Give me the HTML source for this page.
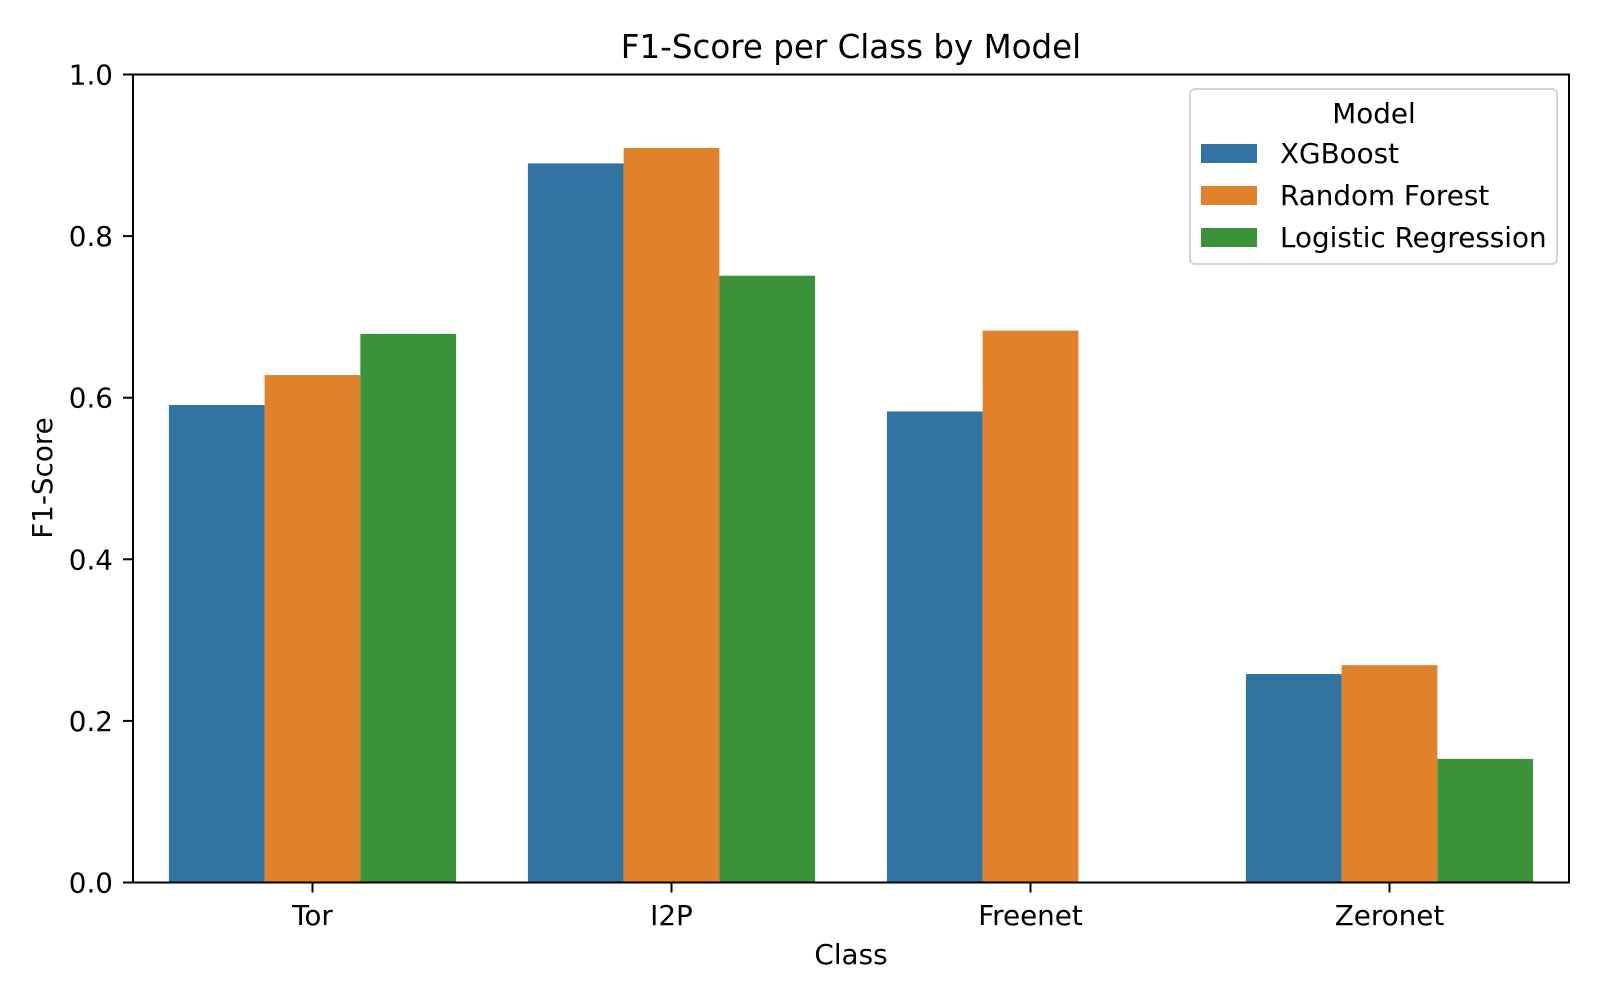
<!DOCTYPE html>
<html><head><meta charset="utf-8"><style>
html,body{margin:0;padding:0;background:#fff;}
svg{display:block;font-family:"DejaVu Sans","Liberation Sans",sans-serif;}
</style></head><body>
<svg id="chart" width="1600" height="1000" viewBox="0 0 1600 1000">
<g id="bars"></g>
<g id="axes"></g>
<text x="851" y="58" font-size="32.5" text-anchor="middle">F1-Score per Class by Model</text>
<text x="851" y="964" font-size="27.8" text-anchor="middle">Class</text>
<text x="0" y="0" font-size="27.8" text-anchor="middle" transform="translate(52,478) rotate(-90)">F1-Score</text>
<g>
<rect x="1190" y="89" width="367" height="175" rx="5" fill="#fff" fill-opacity="0.8" stroke="#d4d4d4" stroke-width="2"/>
<text x="1374" y="123" font-size="27.8" text-anchor="middle">Model</text>
<g id="legend-entries"></g>
</g>
</svg>
<script>
const categories = ["Tor", "I2P", "Freenet", "Zeronet"];
const seriesNames = ["XGBoost", "Random Forest", "Logistic Regression"];
const xgboost = [0.591, 0.890, 0.583, 0.258];
const randomForest = [0.628, 0.909, 0.683, 0.269];
const logisticRegression = [0.679, 0.751, 0, 0.153];
const yTicks = [0, 0.2, 0.4, 0.6, 0.8, 1.0];
const yTickLabels = ["0.0", "0.2", "0.4", "0.6", "0.8", "1.0"];

const colors = ["#3274a1", "#e1812c", "#3a923a"];
const series = [xgboost, randomForest, logisticRegression];
const L = 133, R = 1569, T = 74.5, B = 882.5;
const NS = "http://www.w3.org/2000/svg";
const unit = (R - L) / categories.length;
function xScale(i) { return L + (i + 0.5) * unit; }
function yScale(v) { return B - v * (B - T); }
function mk(tag, attrs, parent) {
  const el = document.createElementNS(NS, tag);
  for (const k in attrs) el.setAttribute(k, attrs[k]);
  parent.appendChild(el);
  return el;
}
const barsG = document.getElementById("bars");
const axesG = document.getElementById("axes");
const bw = unit * 0.8 / series.length;
series.forEach((vals, s) => {
  vals.forEach((v, i) => {
    const x0 = xScale(i) - unit * 0.4 + s * bw;
    const r = mk("rect", {x: x0, y: yScale(v), width: bw, height: yScale(0) - yScale(v), fill: colors[s]}, barsG);
    
    
  });
});
const frame = mk("rect", {x: L, y: T, width: R - L, height: B - T, fill: "none", stroke: "#000", "stroke-width": 2}, axesG);


yTicks.forEach((v, i) => {
  const y = yScale(v);
  const t = mk("line", {x1: L - 10, x2: L, y1: y, y2: y, stroke: "#000", "stroke-width": 2}, axesG);
  
  
  const lb = mk("text", {x: L - 20, y: y + 10, "font-size": 27.8, "text-anchor": "end"}, axesG);
  lb.textContent = yTickLabels[i];
  
  
});
categories.forEach((c, i) => {
  const x = xScale(i);
  const t = mk("line", {x1: x, x2: x, y1: B, y2: B + 10, stroke: "#000", "stroke-width": 2}, axesG);
  
  
  const lb = mk("text", {x: x, y: 925, "font-size": 27.8, "text-anchor": "middle"}, axesG);
  lb.textContent = c;
  
  
});
const lg = document.getElementById("legend-entries");
seriesNames.forEach((n, s) => {
  const y = 144 + s * 42;
  const p = mk("rect", {x: 1201, y: y, width: 56, height: 19, fill: colors[s]}, lg);
  
  
  const tx = mk("text", {x: 1280, y: y + 19, "font-size": 27.8}, lg);
  tx.textContent = n;
  
  
});
</script>
</body></html>
